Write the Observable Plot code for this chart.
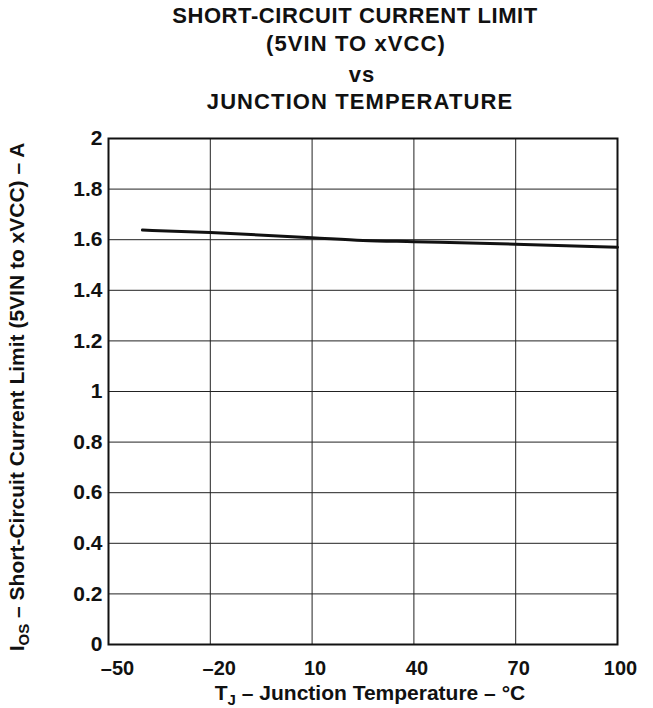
<!DOCTYPE html>
<html>
<head>
<meta charset="utf-8">
<script src="https://cdn.jsdelivr.net/npm/d3@7"></script>
<script src="https://cdn.jsdelivr.net/npm/@observablehq/plot@0.6"></script>
<style>
  html, body { margin: 0; padding: 0; background: white; }
  #title { position: relative; width: 653px; height: 125px; font-family: "Liberation Sans", Arial, sans-serif;
           font-weight: bold; font-size: 22px; line-height: 29px; letter-spacing: 1.1px; color: #111; }
  #title div { position: absolute; left: 0; text-align: center; white-space: nowrap; height: 29px; }
  #chart svg { display: block; }
</style>
</head>
<body>
<div id="title">
  <div style="top:1px;width:710px;letter-spacing:0.6px">SHORT-CIRCUIT CURRENT LIMIT</div>
  <div style="top:29px;width:712px">(5VIN TO xVCC)</div>
  <div style="top:60px;width:724px">vs</div>
  <div style="top:87px;width:720px">JUNCTION TEMPERATURE</div>
</div>
<div id="chart"></div>
<script>
const temps = [-40, -20, 10, 25, 40, 70, 100];
const currents = [1.638, 1.628, 1.608, 1.597, 1.592, 1.582, 1.570];
const xTicksNeg = [-50, -20];
const xTicksPos = [10, 40, 70, 100];
const xTicks = [...xTicksNeg, ...xTicksPos];
const yTicks = [0, 0.2, 0.4, 0.6, 0.8, 1, 1.2, 1.4, 1.6, 1.8, 2];

const data = temps.map((t, i) => ({t, v: currents[i]}));
const fmtX = d => String(d).replace("-", "\u2013");

const svg = Plot.plot({
  width: 653,
  height: 583,
  marginTop: 13,
  marginLeft: 108,
  marginRight: 36,
  marginBottom: 64,
  style: {fontFamily: "Liberation Sans, Arial, sans-serif", fontSize: "20px", fontWeight: "bold", color: "#111", background: "white"},
  x: {domain: [-50, 100], label: null},
  y: {domain: [0, 2], label: null},
  marks: [
    Plot.gridX(xTicks, {stroke: "#222", strokeOpacity: 1, strokeWidth: 1}),
    Plot.gridY(yTicks, {stroke: "#222", strokeOpacity: 1, strokeWidth: 1}),
    Plot.frame({stroke: "#111", strokeWidth: 2}),
    Plot.line(data, {x: "t", y: "v", stroke: "#111", strokeWidth: 3, curve: "monotone-x"}),
    Plot.axisX(xTicksNeg, {tickSize: 0, tickPadding: 16, dx: 9, fontSize: 20, tickFormat: fmtX, label: null}),
    Plot.axisX(xTicksPos, {tickSize: 0, tickPadding: 16, dx: 3, fontSize: 20, tickFormat: fmtX, label: null}),
    Plot.axisY(yTicks, {tickSize: 0, tickPadding: 6, fontSize: 21, tickFormat: d => String(+d.toFixed(1)), label: null})
  ]
});

const s = d3.select(svg);
const xl = s.append("text")
  .attr("x", 370).attr("y", 575)
  .attr("text-anchor", "middle")
  .attr("font-size", 21).attr("font-weight", "bold").attr("fill", "#111");
xl.append("tspan").text("T");
xl.append("tspan").attr("dy", 5).attr("font-size", 15).text("J");
xl.append("tspan").attr("dy", -5).text(" \u2013 Junction Temperature \u2013 \u00B0C");

const yl = s.append("text")
  .attr("transform", "translate(24,272) rotate(-90)")
  .attr("text-anchor", "middle")
  .attr("font-size", 21).attr("font-weight", "bold").attr("fill", "#111");
yl.append("tspan").text("I");
yl.append("tspan").attr("dy", 5).attr("font-size", 15).text("OS");
yl.append("tspan").attr("dy", -5).text(" \u2013 Short-Circuit Current Limit (5VIN to xVCC) \u2013 A");

document.getElementById("chart").appendChild(svg);
</script>
</body>
</html>
